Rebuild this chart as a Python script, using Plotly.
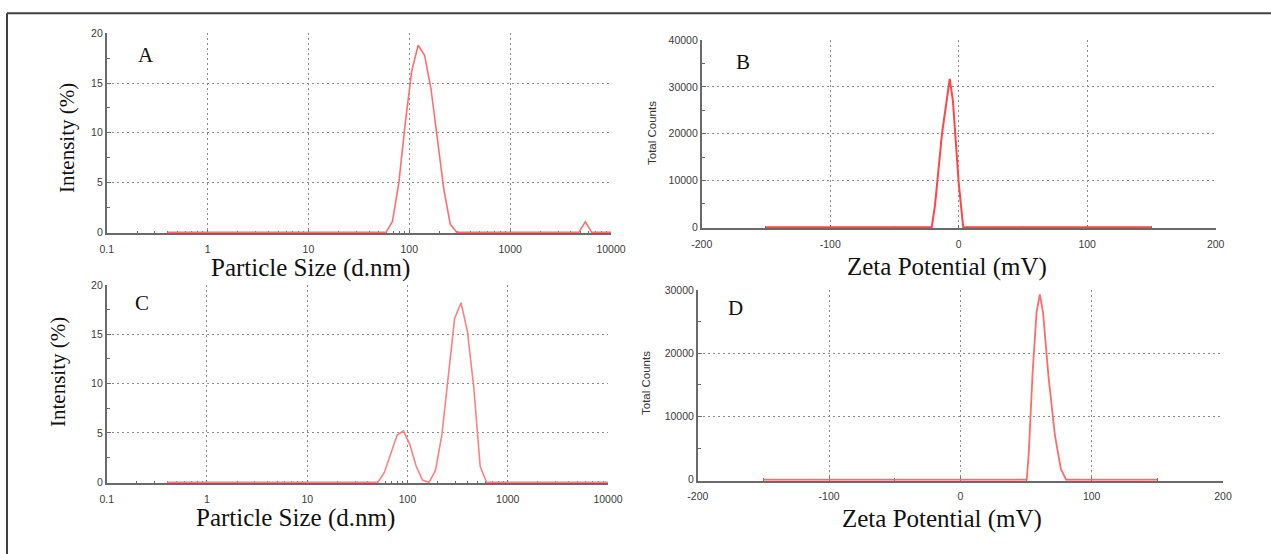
import plotly.graph_objects as go

# ---------------- data ----------------
size_A = [0.4, 58.77, 68.06, 78.82, 91.28, 105.7, 122.4, 141.8, 164.2, 190.1, 220.2, 255.0, 295.3,
          4801, 5560, 6439, 10000]
int_A = [0, 0, 1.1, 5.0, 11.0, 16.2, 18.8, 17.8, 14.4, 9.2, 4.3, 0.8, 0,
         0, 1.05, 0, 0]

zeta_B = [-150, -21, -18.5, -13, -7, -4.5, 0, 3.5, 150]
counts_B = [0, 0, 4600, 20000, 31700, 27000, 9500, 0, 0]

size_C = [0.4, 50.75, 58.77, 68.06, 78.82, 91.28, 105.7, 122.4, 141.8, 164.2, 190.1, 220.2, 255.0,
          295.3, 342.0, 396.1, 458.7, 531.2, 615.1, 10000]
int_C = [0, 0, 1.0, 3.0, 4.8, 5.2, 3.8, 1.6, 0.2, 0, 1.2, 4.8, 10.5,
         16.6, 18.2, 15.3, 9.6, 1.6, 0, 0]

zeta_D = [-150, 50.5, 52, 55, 58, 60.5, 63, 67, 72, 76.5, 80.5, 150]
counts_D = [0, 0, 4000, 17000, 26500, 29300, 26300, 16500, 7000, 1700, 0, 0]

size_ticks = [0.1, 1, 10, 100, 1000, 10000]
size_ticktext = ["0.1", "1", "10", "100", "1000", "10000"]
int_ticks = [0, 5, 10, 15, 20]
int_ticktext = ["0", "5", "10", "15", "20"]
zeta_ticks = [-200, -100, 0, 100, 200]
zeta_ticktext = ["-200", "-100", "0", "100", "200"]
countsB_ticks = [0, 10000, 20000, 30000, 40000]
countsB_ticktext = ["0", "10000", "20000", "30000", "40000"]
countsD_ticks = [0, 10000, 20000, 30000]
countsD_ticktext = ["0", "10000", "20000", "30000"]

panel_letters = ["A", "B", "C", "D"]
size_title = "Particle Size (d.nm)"
int_title = "Intensity (%)"
zeta_title = "Zeta Potential (mV)"
counts_title = "Total Counts"

# ---------------- layout helpers ----------------
W, H = 1271, 554
def px(x):
    return x / W
def py(y):
    return 1 - y / H

SERIF = "Liberation Serif, Times New Roman, serif"
SANS = "Liberation Sans, Arial, sans-serif"
AXC = "#6a6a6a"
GRIDC = "#8c8c8c"

log_minor = [m * d for d in [0.1, 1, 10, 100, 1000] for m in range(2, 10)]

def base_axis(**kw):
    d = dict(
        showline=True, linecolor=AXC, linewidth=1.6,
        showgrid=True, gridcolor=GRIDC, griddash="2px,3px", gridwidth=1,
        zeroline=False, ticks="inside", ticklen=4, tickcolor=AXC, tickwidth=1,
        tickfont=dict(family=SANS, size=10.5, color="#3a3a3a"),
        layer="below traces", fixedrange=True, automargin=False,
    )
    d.update(kw)
    return d

fig = go.Figure()

line_cols = ["#ff6e6e", "#ff4646", "#ff8080", "#ff6a6a"]
fig.add_trace(go.Scatter(x=size_A, y=int_A, mode="lines", line=dict(color=line_cols[0], width=1.6),
                         xaxis="x", yaxis="y", showlegend=False))
fig.add_trace(go.Scatter(x=zeta_B, y=counts_B, mode="lines", line=dict(color=line_cols[1], width=2),
                         xaxis="x2", yaxis="y2", showlegend=False))
fig.add_trace(go.Scatter(x=size_C, y=int_C, mode="lines", line=dict(color=line_cols[2], width=1.6),
                         xaxis="x3", yaxis="y3", showlegend=False))
fig.add_trace(go.Scatter(x=zeta_D, y=counts_D, mode="lines", line=dict(color=line_cols[3], width=1.8),
                         xaxis="x4", yaxis="y4", showlegend=False))

dom = {
    "A": ([106.7, 611], [33.3, 233.3]),
    "B": ([701.7, 1215.7], [40, 228.3]),
    "C": ([106.7, 608], [285, 483.3]),
    "D": ([697.8, 1223], [290, 480.7]),
}
def xd(p):
    return [px(dom[p][0][0]), px(dom[p][0][1])]
def yd(p):
    return [py(dom[p][1][1]), py(dom[p][1][0])]

minor_log = dict(tickvals=log_minor, ticks="inside", ticklen=3, tickcolor=AXC, showgrid=False)

fig.update_layout(
    width=W, height=H, margin=dict(l=0, r=0, t=0, b=0, pad=0, autoexpand=False),
    paper_bgcolor="white", plot_bgcolor="white",
    xaxis=base_axis(type="log", range=[-1, 4], domain=xd("A"), anchor="y",
                    tickvals=size_ticks, ticktext=size_ticktext, ticklabelstandoff=5, minor=minor_log),
    yaxis=base_axis(range=[-0.1, 20], domain=yd("A"), anchor="x", tickvals=int_ticks, ticktext=int_ticktext,
                    minor=dict(dtick=2.5, ticks="inside", ticklen=3, tickcolor=AXC, showgrid=False)),
    xaxis2=base_axis(range=[-200, 200], domain=xd("B"), anchor="y2",
                     tickvals=zeta_ticks, ticktext=zeta_ticktext, ticklabelstandoff=5,
                     minor=dict(dtick=50, ticks="inside", ticklen=3, tickcolor=AXC, showgrid=False)),
    yaxis2=base_axis(range=[-200, 40000], domain=yd("B"), anchor="x2",
                     tickvals=countsB_ticks, ticktext=countsB_ticktext,
                     minor=dict(dtick=5000, ticks="inside", ticklen=3, tickcolor=AXC, showgrid=False)),
    xaxis3=base_axis(type="log", range=[-1, 4], domain=xd("C"), anchor="y3",
                     tickvals=size_ticks, ticktext=size_ticktext, ticklabelstandoff=5, minor=minor_log),
    yaxis3=base_axis(range=[-0.1, 20], domain=yd("C"), anchor="x3", tickvals=int_ticks, ticktext=int_ticktext,
                     minor=dict(dtick=2.5, ticks="inside", ticklen=3, tickcolor=AXC, showgrid=False)),
    xaxis4=base_axis(range=[-200, 200], domain=xd("D"), anchor="y4",
                     tickvals=zeta_ticks, ticktext=zeta_ticktext, ticklabelstandoff=5,
                     minor=dict(dtick=50, ticks="inside", ticklen=3, tickcolor=AXC, showgrid=False)),
    yaxis4=base_axis(range=[-150, 30000], domain=yd("D"), anchor="x4",
                     tickvals=countsD_ticks, ticktext=countsD_ticktext,
                     minor=dict(dtick=5000, ticks="inside", ticklen=3, tickcolor=AXC, showgrid=False)),
)

ann = []
def add_text(text, x, y, size, family, angle=0, color="#111"):
    ann.append(dict(text=text, x=px(x), y=py(y), xref="paper", yref="paper",
                    xanchor="center", yanchor="middle", showarrow=False, textangle=angle,
                    borderpad=0, font=dict(family=family, size=size, color=color)))

# panel letters
letter_pos = [(146, 55), (742.6, 62), (142, 303.3), (735.7, 307.5)]
for lt, (lx, ly) in zip(panel_letters, letter_pos):
    add_text(lt, lx, ly, 21, SERIF)

# axis titles
add_text(size_title, 310, 267.5, 25, SERIF)
add_text(size_title, 295, 517.5, 25, SERIF)
add_text(zeta_title, 947, 266.5, 25, SERIF)
add_text(zeta_title, 942, 518.5, 25, SERIF)
add_text(int_title, 66.5, 138.5, 21, SERIF, angle=-90)
add_text(int_title, 58, 372, 21, SERIF, angle=-90)
add_text(counts_title, 652, 133, 11.5, SANS, angle=-90, color="#333")
add_text(counts_title, 646, 383, 11.5, SANS, angle=-90, color="#333")

fig.update_layout(annotations=ann)

# outer frame (top and left edges visible)
fig.add_shape(type="line", xref="paper", yref="paper", x0=px(7), x1=1, y0=py(13.3), y1=py(13.3),
              line=dict(color="#404040", width=2))
fig.add_shape(type="line", xref="paper", yref="paper", x0=px(7), x1=px(7), y0=py(13.3), y1=0,
              line=dict(color="#404040", width=2))

fig.write_html(
    "out.html",
    config={"displayModeBar": False},
    post_script="document.body.style.margin='0';document.body.style.overflow='hidden';",
)
